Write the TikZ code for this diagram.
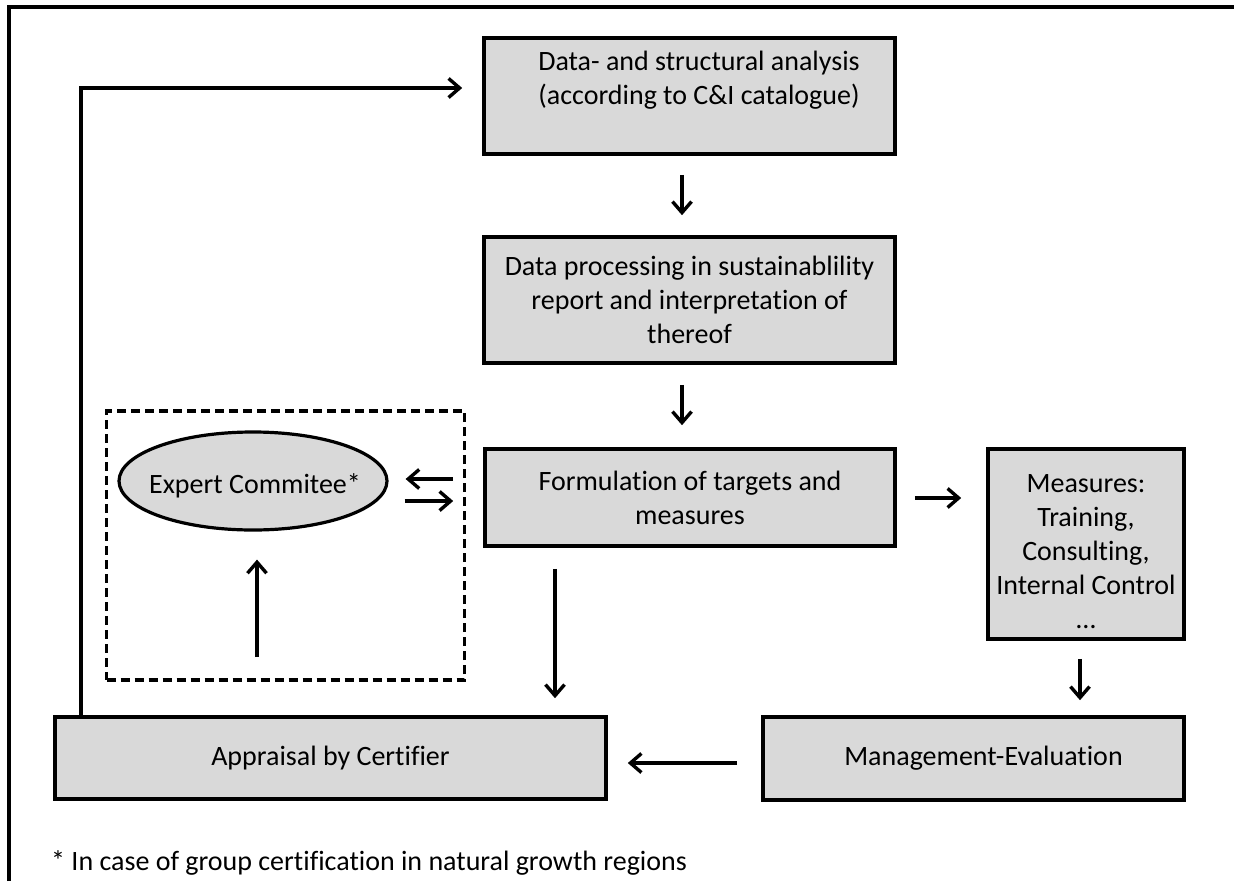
\documentclass[tikz,border=0pt]{standalone}
\usepackage{fontspec}
\setmainfont{Carlito}[Ligatures={NoCommon}]
\usetikzlibrary{arrows.meta,shapes.geometric}
\definecolor{boxgray}{HTML}{D9D9D9}
\newcommand{\boxfont}{\fontsize{28}{34}\selectfont}
\tikzset{
  procbox/.style={draw=black, line width=3.6pt, fill=boxgray, rectangle, inner sep=0pt, align=center, font=\boxfont},
  txt/.style={align=center, inner sep=0pt, font=\boxfont},
  arr/.style={line width=3.2pt, -{Straight Barb[length=11pt,width=19pt,line width=3.4pt]}},
  grpbox/.style={draw=black, line width=3.2pt, dash pattern=on 9pt off 5pt, rectangle, inner sep=0pt},
}
\begin{document}
\begin{tikzpicture}[x=1pt,y=-1pt]
\useasboundingbox (0,0) rectangle (1234,881);
% outer frame (cropped)
\draw[line width=3.2pt] (9,881) -- (9,7) -- (1234,7);

% boxes
\node[procbox, minimum width=411pt, minimum height=116pt] (b1) at (689.5,96) {};
\node[txt] (b1t) at (699,80) {Data- and structural analysis\\(according to C\&I catalogue)};

\node[procbox, minimum width=411pt, minimum height=126pt] (b2) at (689.5,300)
  {Data processing in sustainablility\\report and interpretation of\\thereof};

\node[procbox, minimum width=410pt, minimum height=97pt] (b3) at (690,497.5)
  {Formulation of targets and\\measures};

\node[procbox, minimum width=196pt, minimum height=190pt] (meas) at (1086,544) {};
\node[txt] (meast) at (1086,552) {Measures:\\Training,\\Consulting,\\Internal Control\\\dots};

\node[procbox, minimum width=421pt, minimum height=83pt] (mgmt) at (973.5,758.5)
  {\hspace*{20pt}Management-Evaluation};

\node[procbox, minimum width=551pt, minimum height=82pt] (app) at (330.5,758)
  {Appraisal by Certifier};

% expert group
\node[grpbox, minimum width=358pt, minimum height=269pt] (grp) at (285.5,545.5) {};
\node[ellipse, draw=black, line width=3.2pt, fill=boxgray, minimum width=268pt, minimum height=98pt, inner sep=0pt]
  (ell) at (253,481) {};
\node[txt] (ellt) at (255,486) {Expert Commitee*};

% footnote
\node[anchor=west, inner sep=0pt, font=\boxfont] (fn) at (51,863)
  {* In case of group certification in natural growth regions};

% helper coordinates
\coordinate (xa) at (682,0);
\coordinate (fb) at (81,88);
\coordinate (yup) at (0,479);
\coordinate (ydn) at (0,501);
\coordinate (xin) at (257,0);
\coordinate (xfa) at (555,0);
\coordinate (ym) at (0,498);
\coordinate (xme) at (1080,0);
\coordinate (yme) at (0,763);

% connectors
\draw[arr, shorten <=19pt, shorten >=20pt] (b1.south -| xa) -- (b2.north -| xa);
\draw[arr, shorten <=20pt, shorten >=22pt] (b2.south -| xa) -- (b3.north -| xa);
\draw[arr, shorten <=18pt, shorten >=25pt] (b3.east |- ym) -- (meas.west |- ym);
\draw[arr, shorten <=18pt, shorten >=15pt] (meas.south -| xme) -- (mgmt.north -| xme);
\draw[arr, shorten <=24pt, shorten >=20pt] (mgmt.west |- yme) -- (app.east |- yme);
\draw[arr, shorten <=21pt, shorten >=17pt] (b3.south -| xfa) -- (app.north -| xfa);
\draw[arr, shorten >=20pt] (app.north -| fb) -- (fb) -- (fb -| b1.west);
\draw[arr, shorten <=30pt, shorten >=17pt] (b3.west |- yup) -- (ell.east |- yup);
\draw[arr, shorten <=16pt, shorten >=30pt] (ell.east |- ydn) -- (b3.west |- ydn);
\draw[arr, shorten <=58pt, shorten >=28pt] (app.north -| xin) -- (ell.south -| xin);
\end{tikzpicture}
\end{document}
